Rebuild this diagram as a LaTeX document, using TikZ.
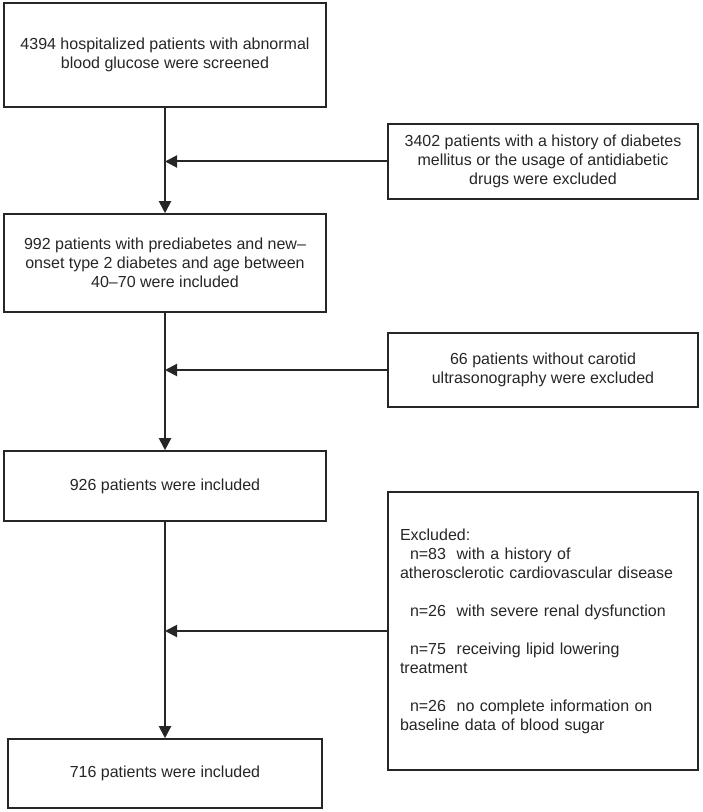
\documentclass[tikz,border=0pt]{standalone}
\usepackage{fontspec}
\setmainfont{Liberation Sans}
\usetikzlibrary{arrows.meta}

\begin{document}
\begin{tikzpicture}[x=0.75pt,y=-0.75pt]
\useasboundingbox (0,0) rectangle (702,812);
\begin{scope}[every node/.style={rectangle,draw=black!85,line width=1.2pt,text=black!85,
              align=center,inner sep=0pt,font=\fontsize{12}{14.25}\selectfont}]
    \node[minimum width=241.5pt,minimum height=78pt] (scr) at (165,55)
        {4394 hospitalized patients with abnormal\\blood glucose were screened};
    \node[minimum width=232.5pt,minimum height=56pt] (ex1) at (543,161.5)
        {3402 patients with a history of diabetes\\mellitus or the usage of antidiabetic\\drugs were excluded};
    \node[minimum width=241.5pt,minimum height=73.5pt] (inc1) at (165,263)
        {992 patients with prediabetes and new--\\onset type 2 diabetes and age between\\40--70 were included};
    \node[minimum width=232.5pt,minimum height=55.5pt] (ex2) at (543,370)
        {66 patients without carotid\\ultrasonography were excluded};
    \node[minimum width=241.5pt,minimum height=52.5pt] (inc2) at (165,486)
        {926 patients were included};
    \node[minimum width=232.5pt,minimum height=208.5pt,align=left,text width=214.5pt] (ex3) at (543,631)
        {Excluded:\\
         \hspace*{7.5pt}n=83\ \ with a history of\\
         atherosclerotic cardiovascular disease\\[14.25pt]
         \hspace*{7.5pt}n=26\ \ with severe renal dysfunction\\[14.25pt]
         \hspace*{7.5pt}n=75\ \ receiving lipid lowering\\
         treatment\\[14.25pt]
         \hspace*{7.5pt}n=26\ \ no complete information on\\
         baseline data of blood sugar};
    \node[minimum width=235.5pt,minimum height=51.75pt] (fin) at (165,773.5)
        {716 patients were included};
\end{scope}

\coordinate (j1) at (scr.south |- ex1.west);
\coordinate (j2) at (scr.south |- ex2.west);
\coordinate (j3) at (scr.south |- ex3.west);

\begin{scope}[>={Triangle[length=9pt,width=9pt]},
              every edge/.style={draw=black!85,line width=1.5pt}]
    \path [->] (scr) edge (inc1);
    \path [->] (inc1) edge (inc2);
    \path [->] (inc2) edge (fin);
    \path [->] (ex1) edge (j1);
    \path [->] (ex2) edge (j2);
    \path [->] (ex3) edge (j3);
\end{scope}
\end{tikzpicture}
\end{document}
